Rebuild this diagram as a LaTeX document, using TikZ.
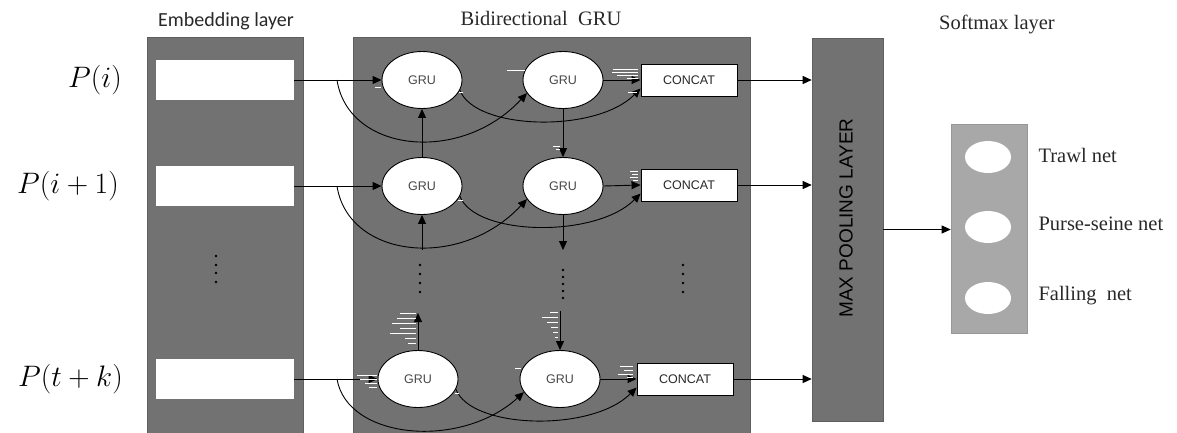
\documentclass[tikz,border=0pt]{standalone}
\usepackage{fontspec}
\setmainfont{Liberation Serif}
\newfontfamily\calib{Carlito}
\newfontfamily\arialf{Liberation Sans}
\newfontfamily\timesf{Liberation Serif}
\usetikzlibrary{arrows.meta,shapes.geometric}
\definecolor{paneldark}{RGB}{114,114,114}
\definecolor{panelline}{RGB}{95,95,95}
\definecolor{panellight}{RGB}{168,168,168}
\definecolor{inktext}{RGB}{40,40,40}
% sequence labels: math at its largest design size, then enlarged
\newcommand{\seqlabel}[1]{\scalebox{1.19}{$#1$}}
\tikzset{
  panel/.style={draw=panelline, line width=0.6pt, fill=paneldark, inner sep=0pt},
  slot/.style={fill=white, draw=none, minimum width=138pt, minimum height=40pt, inner sep=0pt},
  gru/.style={ellipse, draw=black, line width=0.9pt, fill=white, minimum width=80pt, minimum height=57pt, inner sep=0pt,
              font=\arialf\fontsize{12.5}{14}\selectfont, text=inktext!85},
  concat/.style={rectangle, draw=black, line width=0.9pt, fill=white, minimum width=96pt, minimum height=32pt, inner sep=0pt,
                 font=\arialf\fontsize{12.5}{14}\selectfont, text=inktext},
  outcell/.style={ellipse, fill=white, draw=none, minimum width=46pt, minimum height=32pt, inner sep=0pt},
  arr/.style={draw=black, line width=0.9pt, -{Triangle[length=9pt,width=8pt]}},
  glint/.style={draw=white, line width=0.7pt},
  seq/.style={font=\fontsize{24.88}{30}\selectfont, anchor=east, inner sep=0pt},
  serifl/.style={font=\timesf\fontsize{20.5}{24}\selectfont, text=inktext},
  outl/.style={font=\timesf\fontsize{20.5}{24}\selectfont, text=inktext, anchor=west},
}
\begin{document}
\begin{tikzpicture}[x=1pt,y=-1pt]
\useasboundingbox (0,0) rectangle (1177,432);

% layer panels
\node (emb) [panel, anchor=north west, minimum width=156pt, minimum height=410pt] at (147,37) {};
\node (bgru) [panel, anchor=north west, minimum width=397pt, minimum height=410pt] at (353,37) {};
\node (mp) [panel, minimum width=71pt, minimum height=383pt] at (847.5,229.5) {};
\node (sm) [panel, draw=panellight!90!black, fill=panellight, minimum width=76pt, minimum height=209pt] at (989,228.5) {};

% layer titles
\node (embt) [font=\calib\fontsize{20}{24}\selectfont, text=inktext] at (226,21) {Embedding layer};
\node (bgrut) [serifl] at (541,18) {Bidirectional\ \ GRU};
\node (smt) [serifl] at (997,24) {Softmax layer};
\node (mpt) [font=\arialf\fontsize{19}{22}\selectfont, text=black, rotate=90] at (846,218) {MAX POOLING LAYER};

% input sequence
\node (p1) [seq] at (122,80) {\seqlabel{P(i)}};
\node (p2) [seq] at (119,186) {\seqlabel{P(i+1)}};
\node (p3) [seq] at (123,379) {\seqlabel{P(t+k)}};

% embedding slots
\node (e1) [slot] at (225,80) {};
\node (e2) [slot] at (225,186) {};
\node (e3) [slot] at (225,379) {};

% GRU cells and concatenation
\node (g11) [gru] at (422,80) {GRU};
\node (g12) [gru] at (563,80) {GRU};
\node (c1) [concat] at (689,80) {CONCAT};
\node (g21) [gru] at (422,186) {GRU};
\node (g22) [gru] at (563,186) {GRU};
\node (c2) [concat] at (689,185) {CONCAT};
\node (g31) [gru] at (418,379) {GRU};
\node (g32) [gru] at (560,379) {GRU};
\node (c3) [concat] at (685,379) {CONCAT};

% softmax outputs
\node (o1) [outcell] at (988,157) {};
\node (o2) [outcell] at (988,227) {};
\node (o3) [outcell] at (988,298) {};
\node (l1) [outl] at (1035,155) {Trawl net};
\node (l2) [outl] at (1035,224) {Purse-seine net};
\node (l3) [outl] at (1035,296) {Falling\ \ net};

% branch points on the input lines
\coordinate (s1) at (337,80);
\coordinate (s2) at (337,186);
\coordinate (s3) at (337,379);

% inputs into the forward cells
\draw[arr] (e1.east) -- (g11.west);
\draw[arr] (e2.east) -- (g21.west);
\draw[arr] (e3.east) -- (g31.west);

% inputs into the backward cells
\draw[arr] (s1) .. controls +(11,72) and +(-67,72) .. (g12.200);
\draw[arr] (s2) .. controls +(11,72) and +(-67,72) .. (g22.200);
\draw[arr] (s3) .. controls +(10,60) and +(-64,58) .. (g32.200);

% forward outputs into concatenation
\draw[arr] (g11.-15) .. controls +(15,40) and +(-45,45) .. (c1.190);
\draw[arr] (g21.-15) .. controls +(15,40) and +(-45,45) .. (c2.190);
\draw[arr] (g31.-15) .. controls +(15,40) and +(-45,45) .. (c3.190);

% backward outputs into concatenation
\draw[arr] (g12.east) -- (c1.west);
\draw[arr] (g22.east) -- (c2.west);
\draw[arr] (g32.east) -- (c3.west);

% recurrent links
\draw[arr] (g21.north) -- (g11.south);
\draw[arr] (g12.south) -- (g22.north);
\coordinate (u2) at (422,250);
\coordinate (d2) at (563,250);
\draw[arr] (u2) -- (g21.south);
\draw[arr] (g22.south) -- (d2);
\coordinate (u3) at (418,313);
\coordinate (d3) at (560,311);
\draw[arr] (g31.north) -- (u3);
\draw[arr] (d3) -- (g32.north);

% concatenation into max pooling, pooling into softmax
\draw[arr] (c1.east) -- (c1.east -| mp.west);
\draw[arr] (c2.east) -- (c2.east -| mp.west);
\draw[arr] (c3.east) -- (c3.east -| mp.west);
\draw[arr] (mp.east) -- (mp.east -| sm.west);

% ellipsis dots
\foreach \y in {256,265,273,282} \fill (216,\y) circle (1.4pt);
\foreach \y in {265,274,283,292} \fill (420,\y) circle (1.4pt);
\foreach \y in {270,277,284,291,298} \fill (563,\y) circle (1.4pt);
\foreach \y in {265,274,283,292} \fill (683,\y) circle (1.4pt);

% light edge strokes beside the arrow tips
\draw[glint] (375,87) -- (381,87);
\draw[glint] (507,70) -- (525,70);
\draw[glint] (613,69) -- (638,69) (612,72) -- (638,72) (617,75) -- (638,75) (627,78) -- (638,78);
\draw[glint] (628,92) -- (637,92);
\draw[glint] (459,92) -- (463,92);
\draw[glint] (553,146) -- (560,146) (556,149) -- (560,149);
\draw[glint] (630,171) -- (638,171) (632,174) -- (638,174) (630,177) -- (638,177) (633,180) -- (638,180);
\draw[glint] (458,200) -- (463,200);
\draw[glint] (357,375) -- (377,375) (360,379) -- (377,379) (365,383) -- (377,383) (369,387) -- (377,387);
\draw[glint] (400,313) -- (416,313) (397,318) -- (416,318) (392,323) -- (416,323) (400,328) -- (416,328) (390,333) -- (416,333) (405,338) -- (416,338) (408,343) -- (416,343);
\draw[glint] (550,312) -- (558,312) (542,317) -- (558,317) (547,322) -- (558,322) (551,327) -- (558,327) (553,332) -- (558,332) (555,337) -- (558,337);
\draw[glint] (515,368) -- (521,368);
\draw[glint] (620,366) -- (633,366) (624,370) -- (633,370) (618,374) -- (633,374) (627,377) -- (633,377);
\draw[glint] (455,393) -- (459,393);
\end{tikzpicture}
\end{document}
